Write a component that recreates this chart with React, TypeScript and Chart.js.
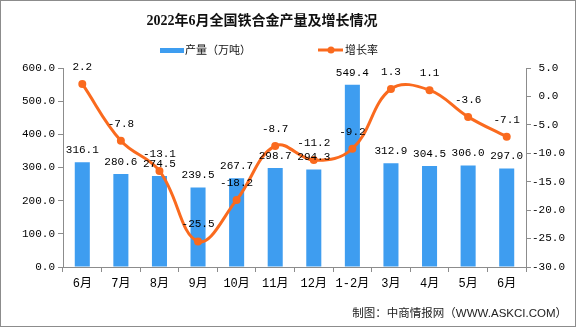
import React, { useEffect, useRef } from "react";
import { Chart, registerables } from "chart.js";

Chart.register(...registerables);

const title = "2022年6月全国铁合金产量及增长情况";
const categories = ["6月", "7月", "8月", "9月", "10月", "11月", "12月", "1-2月", "3月", "4月", "5月", "6月"];
const output = [316.1, 280.6, 274.5, 239.5, 267.7, 298.7, 294.3, 549.4, 312.9, 304.5, 306.0, 297.0];
const growth = [2.2, -7.8, -13.1, -25.5, -18.2, -8.7, -11.2, -9.2, 1.3, 1.1, -3.6, -7.1];
const barLabel = "产量（万吨）";
const lineLabel = "增长率";
const footer = "制图：中商情报网（WWW.ASKCI.COM）";

const BLUE = "#3e9df0";
const ORANGE = "#fa6a1e";
const AXIS = "#8c8c8c";
const NUM_FONT = "'Liberation Mono', 'Noto Sans CJK SC', monospace";

const decorPlugin = {
  id: "decor",
  beforeDraw(chart: any) {
    const ctx = chart.ctx;
    ctx.save();
    ctx.fillStyle = "#fff";
    ctx.fillRect(0, 0, chart.width, chart.height);
    ctx.restore();
  },
  afterDatasetsDraw(chart: any) {
    const ctx = chart.ctx;
    ctx.save();
    ctx.fillStyle = "#000";
    ctx.font = "11px " + NUM_FONT;
    ctx.textAlign = "center";
    ctx.textBaseline = "middle";
    const barMeta = chart.getDatasetMeta(0);
    barMeta.data.forEach((el: any, i: number) => {
      ctx.fillText(output[i].toFixed(1), el.x, el.y - 12);
    });
    const lineMeta = chart.getDatasetMeta(1);
    lineMeta.data.forEach((el: any, i: number) => {
      ctx.fillText(growth[i].toFixed(1), el.x, el.y - 17);
    });
    ctx.restore();
  },
  afterDraw(chart: any) {
    const ctx = chart.ctx;
    ctx.save();
    // title
    ctx.fillStyle = "#111";
    ctx.textAlign = "center";
    ctx.textBaseline = "middle";
    ctx.font = "bold 14px 'Liberation Serif', 'Noto Sans CJK SC', serif";
    ctx.fillText(title, 262, 21);
    // legend
    ctx.fillStyle = BLUE;
    ctx.fillRect(160, 48, 24, 5);
    ctx.fillStyle = "#111";
    ctx.textAlign = "left";
    ctx.font = "11px 'Noto Sans CJK SC', sans-serif";
    ctx.fillText(barLabel, 185, 50);
    ctx.strokeStyle = ORANGE;
    ctx.lineWidth = 3;
    ctx.beginPath();
    ctx.moveTo(318, 50);
    ctx.lineTo(343, 50);
    ctx.stroke();
    ctx.fillStyle = ORANGE;
    ctx.beginPath();
    ctx.arc(331, 50, 3.5, 0, Math.PI * 2);
    ctx.fill();
    ctx.fillStyle = "#111";
    ctx.fillText(lineLabel, 345, 50);
    // footer
    ctx.textAlign = "right";
    ctx.font = "11.5px 'Liberation Sans', 'Noto Sans CJK SC', sans-serif";
    ctx.fillStyle = "#222";
    ctx.fillText(footer, 567, 314);
    // border
    ctx.strokeStyle = AXIS;
    ctx.lineWidth = 1;
    ctx.strokeRect(0.5, 0.5, chart.width - 1, chart.height - 1);
    ctx.restore();
  },
};

export default function App() {
  const ref = useRef<HTMLCanvasElement | null>(null);
  useEffect(() => {
    document.body.style.margin = "0";
    if (!ref.current) return;
    const tickFont = { family: NUM_FONT, size: 11 };
    const chart = new Chart(ref.current, {
      type: "bar",
      data: {
        labels: categories,
        datasets: [
          {
            type: "bar",
            label: barLabel,
            data: output,
            backgroundColor: BLUE,
            yAxisID: "y",
            barPercentage: 0.39,
            categoryPercentage: 1,
            order: 1,
          },
          {
            type: "line",
            label: lineLabel,
            data: growth,
            borderColor: ORANGE,
            backgroundColor: ORANGE,
            borderWidth: 3,
            pointRadius: 4,
            pointBackgroundColor: ORANGE,
            pointBorderWidth: 0,
            tension: 0.4,
            yAxisID: "y1",
            order: 0,
          } as any,
        ],
      },
      options: {
        animation: false,
        responsive: false,
        devicePixelRatio: 1,
        layout: { padding: { top: 68, left: 0, right: 0, bottom: 0 } },
        plugins: {
          legend: { display: false },
          title: { display: false },
          tooltip: { enabled: false },
        },
        scales: {
          x: {
            offset: true,
            grid: { offset: true, drawOnChartArea: false, drawTicks: true, tickLength: 5, color: AXIS },
            border: { color: AXIS },
            ticks: { color: "#000", font: { family: "'Liberation Mono', 'Noto Sans CJK SC', sans-serif", size: 12 }, padding: 5, maxRotation: 0, autoSkip: false },
            afterFit(scale: any) {
              scale.height = 60;
            },
          },
          y: {
            position: "left",
            min: 0,
            max: 600,
            grid: { drawOnChartArea: false, drawTicks: true, tickLength: 5, color: AXIS },
            border: { color: AXIS },
            ticks: {
              stepSize: 100,
              color: "#000",
              font: tickFont,
              padding: 3,
              callback: (v: any) => Number(v).toFixed(1),
            },
            afterFit(scale: any) {
              scale.width = 63;
            },
          },
          y1: {
            position: "right",
            min: -30,
            max: 5,
            grid: { drawOnChartArea: false, drawTicks: true, tickLength: 5, color: AXIS },
            border: { color: AXIS },
            ticks: {
              stepSize: 5,
              color: "#000",
              font: tickFont,
              padding: 1,
              callback: (v: any) => (Number(v) >= 0 ? " " : "") + Number(v).toFixed(1),
            },
            afterFit(scale: any) {
              scale.width = 50;
            },
          },
        },
      },
      plugins: [decorPlugin],
    });
    return () => chart.destroy();
  }, []);
  return (
    <div style={{ width: 576, height: 327 }}>
      <canvas ref={ref} width={576} height={327} style={{ display: "block", width: 576, height: 327 }} />
    </div>
  );
}
